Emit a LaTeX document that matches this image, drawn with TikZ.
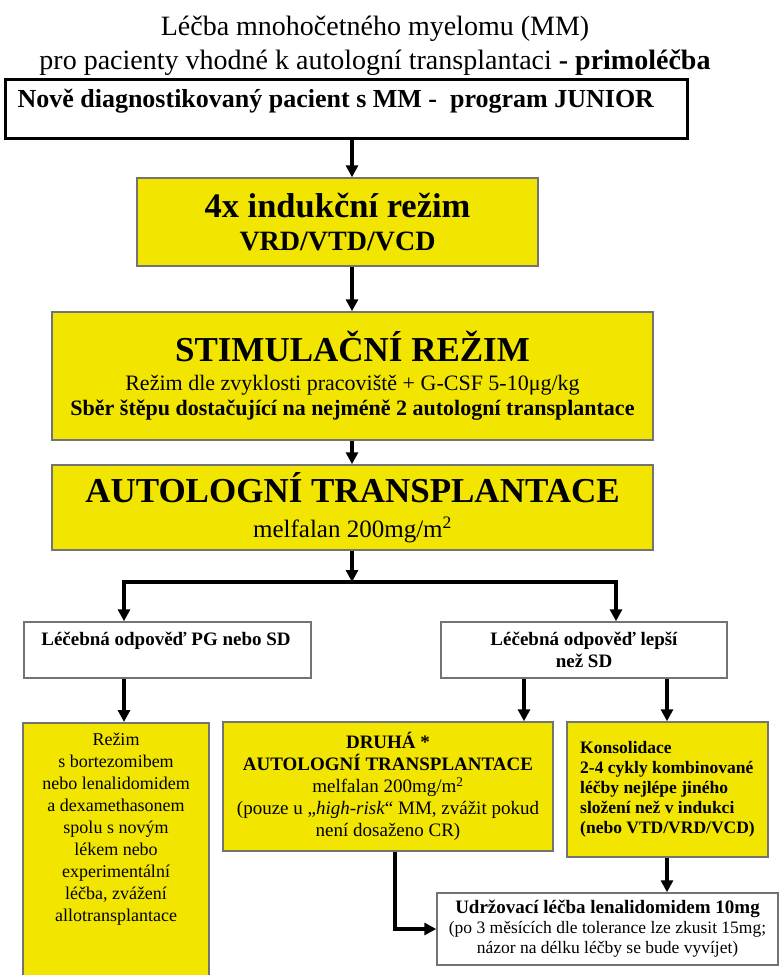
\documentclass[tikz,border=0pt]{standalone}
\usepackage{fontspec}
\setmainfont{Liberation Serif}
\usetikzlibrary{arrows.meta,positioning}

\definecolor{boxyellow}{RGB}{242,230,0}
\definecolor{boxgray}{RGB}{115,115,115}

\newcommand{\sizeTitle}{\fontsize{28}{34}\selectfont}
\newcommand{\sizeHuge}{\fontsize{35}{40}\selectfont}
\newcommand{\sizeMid}{\fontsize{22}{25}\selectfont}
\newcommand{\sizeResp}{\fontsize{19}{22}\selectfont}
\newcommand{\sizeLow}{\fontsize{18}{22}\selectfont}
\newcommand{\sizeSmall}{\fontsize{17.5}{20}\selectfont}

\begin{document}
\begin{tikzpicture}[x=1pt, y=-1pt,
    ybox/.style={draw=boxgray, fill=boxyellow, line width=1.5pt, inner sep=0pt, align=center},
    wbox/.style={draw=boxgray, fill=white, line width=1.5pt, inner sep=0pt, align=center},
    arr/.style={line width=3.2pt, -{Triangle[width=12pt,length=12pt]}},
    twoarr/.style={line width=3.2pt, {Triangle[width=12pt,length=12pt]}-{Triangle[width=12pt,length=12pt]}}]
  \useasboundingbox (0,0) rectangle (779,975);
  \clip (0,0) rectangle (779,975);

  % arrow columns
  \coordinate (colA) at (124,0);
  \coordinate (colB) at (352,0);
  \coordinate (colC) at (616,0);
  \coordinate (colD) at (524,0);
  \coordinate (colE) at (667,0);
  \coordinate (colF) at (395,0);
  \coordinate (split) at (352,582);

  % title
  \node[align=center, font=\sizeTitle] (nadpis) at (375,46)
    {Léčba mnohočetného myelomu (MM)\\pro pacienty vhodné k autologní transplantaci \textbf{- primoléčba}};

  \node[draw=black, line width=3pt, minimum width=682pt, minimum height=59pt, inner sep=0pt] (novy) at (346,108.5) {};
  \node[anchor=base west, font=\fontsize{26}{30}\selectfont\bfseries] (novytext) at (14,107)
    {Nově diagnostikovaný pacient s MM - \ program JUNIOR};

  \node[ybox, minimum width=401pt, minimum height=88pt, font=\fontsize{28}{33}\selectfont\bfseries] (induk) at (337.5,222)
    {{\fontsize{34.5}{36}\selectfont 4x indukční režim}\\
     VRD/VTD/VCD};

  \node[ybox, minimum width=601pt, minimum height=128pt, font=\sizeMid] (stimul) at (352.5,376)
    {{\sizeHuge\bfseries STIMULAČNÍ REŽIM}\\[4pt]
     Režim dle zvyklosti pracoviště + G-CSF 5-10μg/kg\\
     \textbf{Sběr štěpu dostačující na nejméně 2 autologní transplantace}};

  \node[ybox, minimum width=601pt, minimum height=85pt, font=\fontsize{25}{35}\selectfont] (autol) at (352.5,507.5)
    {{\sizeHuge\bfseries AUTOLOGNÍ TRANSPLANTACE}\\
     melfalan 200mg/m\textsuperscript{2}};

  % response boxes
  \node[wbox, minimum width=287pt, minimum height=56pt] (pg) at (167.5,650) {};
  \node[font=\sizeResp\bfseries] (pgtext) at (166,641) {Léčebná odpověď PG nebo SD};
  \node[wbox, minimum width=286pt, minimum height=56pt, font=\sizeResp\bfseries] (lepsi) at (584,650)
    {Léčebná odpověď lepší\\než SD};

  % lower boxes
  \node[ybox, minimum width=186pt, minimum height=280pt, anchor=north] (rezimbox) at (116,722) {};
  \node[align=center, font=\sizeLow, anchor=north] (rezim) at (116,729)
    {Režim\\s bortezomibem\\nebo lenalidomidem\\a dexamethasonem\\spolu s novým\\lékem nebo\\experimentální\\léčba, zvážení\\allotransplantace};

  \node[ybox, minimum width=330pt, minimum height=129pt, font=\fontsize{19}{22}\selectfont] (druha) at (388,786.5)
    {\textbf{DRUHÁ *}\\\textbf{AUTOLOGNÍ TRANSPLANTACE}\\melfalan 200mg/m\textsuperscript{2}\\(pouze u „\textit{high-risk}“ MM, zvážit pokud\\není dosaženo CR)};

  \node[ybox, minimum width=201pt, minimum height=135pt, align=left, font=\sizeSmall\bfseries] (konsol) at (667.5,789.5)
    {Konsolidace\\2-4 cykly kombinované\\léčby nejlépe jiného\\složení než v indukci\\(nebo VTD/VRD/VCD)};

  \node[wbox, minimum width=341pt, minimum height=72pt, font=\sizeSmall] (udrz) at (607.5,929)
    {{\fontsize{19}{20}\selectfont\bfseries Udržovací léčba lenalidomidem 10mg}\\(po 3 měsících dle tolerance lze zkusit 15mg;\\názor na délku léčby se bude vyvíjet)};

  % connectors
  \draw[arr] (novy.south -| colB) -- (induk.north -| colB);
  \draw[arr] (induk.south -| colB) -- (stimul.north -| colB);
  \draw[arr] (stimul.south -| colB) -- (autol.north -| colB);
  \draw[arr] (autol.south -| colB) -- (split);
  \draw[twoarr] (pg.north -| colA) |- (split -| colC) -- (lepsi.north -| colC);
  \draw[arr] (pg.south -| colA) -- (rezimbox.north -| colA);
  \draw[arr] (lepsi.south -| colD) -- (druha.north -| colD);
  \draw[arr] (lepsi.south -| colE) -- (konsol.north -| colE);
  \draw[arr] (konsol.south -| colE) -- (udrz.north -| colE);
  \draw[arr] (druha.south -| colF) |- (udrz.west);
\end{tikzpicture}
\end{document}
